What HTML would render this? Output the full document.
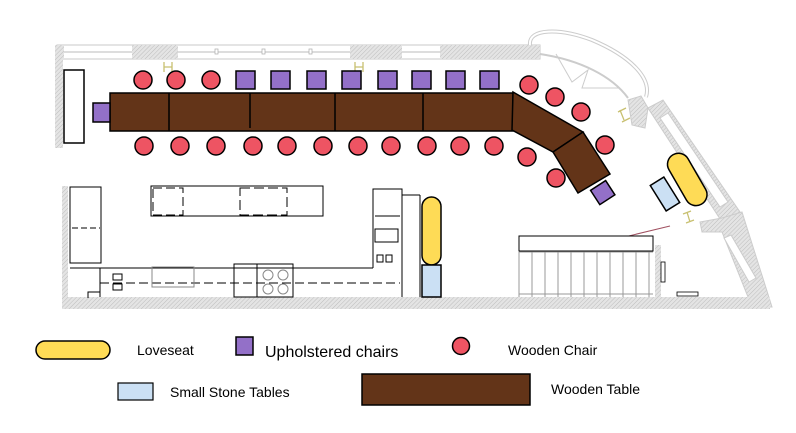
<!DOCTYPE html>
<html><head><meta charset="utf-8"><style>
html,body{margin:0;padding:0;background:#fff;}
svg{display:block;}
text{font-family:"Liberation Sans",sans-serif;fill:#000;}
</style></head><body>
<svg width="796" height="433" viewBox="0 0 796 433" xmlns="http://www.w3.org/2000/svg">
<defs>
<pattern id="h" width="3" height="3" patternUnits="userSpaceOnUse" patternTransform="rotate(45)">
<rect width="3" height="3" fill="#e4e4e4"/><line x1="0" y1="0" x2="0" y2="3" stroke="#bdbdbd" stroke-width="1"/>
</pattern>
</defs>
<!-- top wall -->
<rect x="57" y="45" width="483" height="14" fill="#fff" stroke="#c8c8c8"/>
<line x1="64" y1="52" x2="440" y2="52" stroke="#bbb"/>
<rect x="57" y="45" width="7" height="14" fill="url(#h)"/>
<rect x="132" y="45" width="46" height="14" fill="url(#h)"/>
<rect x="350" y="45" width="52" height="14" fill="url(#h)"/>
<rect x="440" y="45" width="100" height="14" fill="url(#h)"/>
<rect x="215" y="49" width="3" height="5" fill="#fff" stroke="#aaa" stroke-width=".7"/>
<rect x="262" y="49" width="3" height="5" fill="#fff" stroke="#aaa" stroke-width=".7"/>
<rect x="309" y="49" width="3" height="5" fill="#fff" stroke="#aaa" stroke-width=".7"/>
<!-- left wall -->
<rect x="55" y="45" width="8" height="103" fill="url(#h)"/>
<!-- arc window -->
<path d="M530,45 C528,28 560,28 592,40 C630,56 652,78 646,97" fill="none" stroke="#ccc" stroke-width="4"/>
<path d="M530,45 C528,28 560,28 592,40 C630,56 652,78 646,97" fill="none" stroke="#fff" stroke-width="2"/>
<path d="M540,54 C580,60 612,76 628,98" fill="none" stroke="#ccc" stroke-width="2"/>
<path d="M556,54 L572,82 L588,70 L582,88 L620,88" fill="none" stroke="#ccc" stroke-width="1"/>
<!-- right wall -->
<polygon points="628,100 641,96 648,108 645,128 632,125" fill="url(#h)" stroke="#ccc"/>
<polygon points="648,108 663,100 740,212 722,222" fill="url(#h)" stroke="#ccc"/>
<polygon points="660,118 668,113 728,202 720,207" fill="#fff" stroke="#ccc"/>
<polygon points="700,222 722,218 742,212 772,307 752,307 722,232 702,232" fill="url(#h)" stroke="#ccc"/>
<polygon points="724,238 731,235 756,278 749,282" fill="#fff" stroke="#ccc"/>
<!-- bottom wall -->
<rect x="62" y="297" width="708" height="12" fill="url(#h)"/>
<rect x="62" y="186" width="6" height="112" fill="url(#h)"/>
<rect x="655" y="245" width="6" height="52" fill="url(#h)"/>
<line x1="612" y1="240" x2="670" y2="226" stroke="#a05060" stroke-width="1"/>
<rect x="661" y="262" width="4" height="20" fill="#fff" stroke="#000" stroke-width=".8"/>
<rect x="677" y="292" width="21" height="4" fill="#fff" stroke="#000" stroke-width=".8"/>
<!-- H markers -->
<g stroke="#c8c070" stroke-width="1.3" fill="none">
<path d="M164,62 v10 M172,62 v10 M164,67 h8"/>
<path d="M355,62 v10 M363,62 v10 M355,67 h8"/>
<path d="M618,112 l8,-4 M622,122 l8,-4 M620,110 l4,10" />
<path d="M683,214 l8,-3 M686,223 l8,-3 M687,212 l3,10"/>
</g>
<!-- left white rect -->
<rect x="64" y="70" width="20" height="73" fill="#fff" stroke="#000" stroke-width="1.5"/>
<!-- kitchen -->
<g fill="none" stroke="#000" stroke-width="1">
<rect x="70" y="187" width="31" height="76"/>
<line x1="72" y1="228" x2="100" y2="228" stroke-dasharray="6,3"/>
<path d="M70,268 H100 V292 H88 V298"/>
<line x1="100" y1="268" x2="373" y2="268"/>
<line x1="100" y1="283" x2="373" y2="283" stroke-dasharray="9,4"/>
<line x1="100" y1="268" x2="100" y2="297"/>
<rect x="151" y="186" width="172" height="30"/>
<rect x="153" y="188" width="30" height="27" stroke-dasharray="9,4"/>
<rect x="240" y="188" width="47" height="27" stroke-dasharray="10,4"/>
<rect x="152" y="267" width="42" height="20" stroke="#888"/>
<rect x="234" y="264" width="59" height="33"/>
<line x1="257" y1="264" x2="257" y2="297"/>
<circle cx="268" cy="275" r="5" stroke="#888"/><circle cx="283" cy="275" r="5" stroke="#888"/>
<circle cx="268" cy="289" r="5" stroke="#888"/><circle cx="283" cy="289" r="5" stroke="#888"/>
<rect x="113" y="274" width="9" height="6"/><rect x="113" y="284" width="9" height="6"/>
<path d="M373,268 V189 H402 V297"/>
<line x1="402" y1="195" x2="420" y2="195"/>
<line x1="420" y1="195" x2="420" y2="297"/>
<line x1="375" y1="216" x2="400" y2="216"/>
<rect x="375" y="229" width="23" height="13"/>
<rect x="377" y="255" width="6" height="7"/><rect x="386" y="255" width="6" height="7"/>
<line x1="373" y1="283" x2="400" y2="283" stroke-dasharray="9,4"/>
</g>
<!-- stairs -->
<rect x="519" y="236" width="134" height="15" fill="#fff" stroke="#000" stroke-width="1"/>
<g stroke="#999" stroke-width="1">
<line x1="519" y1="252" x2="653" y2="252"/><line x1="519" y1="294" x2="653" y2="294"/>
<line x1="519" y1="252" x2="519" y2="297"/><line x1="532" y1="252" x2="532" y2="297"/>
<line x1="545" y1="252" x2="545" y2="297"/><line x1="558" y1="252" x2="558" y2="297"/>
<line x1="571" y1="252" x2="571" y2="297"/><line x1="584" y1="252" x2="584" y2="297"/>
<line x1="597" y1="252" x2="597" y2="297"/><line x1="610" y1="252" x2="610" y2="297"/>
<line x1="623" y1="252" x2="623" y2="297"/><line x1="636" y1="252" x2="636" y2="297"/>
<line x1="649" y1="252" x2="649" y2="297"/>
</g>
<!-- table -->
<g fill="#633418" stroke="#000" stroke-width="1.5">
<rect x="110" y="93" width="403" height="38"/>
<polygon points="513,92 583,132 553,152 512,130"/>
<polygon points="553,152 583,132 610,174 578,193"/>
</g>
<g stroke="#000" stroke-width="1.5">
<line x1="169" y1="93" x2="169" y2="131"/><line x1="250" y1="93" x2="250" y2="128"/>
<line x1="335" y1="93" x2="335" y2="131"/><line x1="423" y1="93" x2="423" y2="131"/>
</g>
<!-- purple chairs -->
<g fill="#9370c8" stroke="#000" stroke-width="1.5">
<rect x="93" y="103" width="17" height="19"/>
<rect x="236" y="71" width="19" height="18"/><rect x="271" y="71" width="19" height="18"/>
<rect x="307" y="71" width="19" height="18"/><rect x="342" y="71" width="19" height="18"/>
<rect x="378" y="71" width="19" height="18"/><rect x="412" y="71" width="19" height="18"/>
<rect x="446" y="71" width="19" height="18"/><rect x="480" y="71" width="19" height="18"/>
<rect x="594" y="184" width="18" height="17" transform="rotate(-33 603 193)"/>
</g>
<!-- red chairs -->
<g fill="#ee5463" stroke="#000" stroke-width="1.5">
<circle cx="143" cy="80" r="9"/><circle cx="176" cy="80" r="9"/><circle cx="211" cy="80" r="9"/>
<circle cx="144" cy="146" r="9"/><circle cx="180" cy="146" r="9"/><circle cx="216" cy="146" r="9"/>
<circle cx="253" cy="146" r="9"/><circle cx="287" cy="146" r="9"/><circle cx="323" cy="146" r="9"/>
<circle cx="358" cy="146" r="9"/><circle cx="391" cy="146" r="9"/><circle cx="427" cy="146" r="9"/>
<circle cx="460" cy="146" r="9"/><circle cx="494" cy="146" r="9"/>
<circle cx="529" cy="85" r="9"/><circle cx="555" cy="97" r="9"/><circle cx="581" cy="112" r="9"/>
<circle cx="605" cy="145" r="9"/><circle cx="527" cy="157" r="9"/><circle cx="556" cy="178" r="9"/>
</g>
<!-- loveseats & stone tables -->
<g stroke="#000" stroke-width="1.5">
<rect x="422" y="197" width="19" height="68" rx="9.5" fill="#fedb56"/>
<rect x="422" y="265" width="19" height="32" fill="#cbe0f4"/>
<rect x="676" y="151" width="22" height="57" rx="11" fill="#fedb56" transform="rotate(-30 687 179)"/>
<rect x="657" y="179" width="16" height="30" fill="#cbe0f4" transform="rotate(-32 665 194)"/>
</g>
<!-- legend -->
<rect x="36" y="341" width="74" height="18" rx="9" fill="#fedb56" stroke="#000" stroke-width="1.5"/>
<text x="137" y="355" font-size="14">Loveseat</text>
<rect x="236" y="337" width="17" height="18" fill="#9370c8" stroke="#000" stroke-width="1.5"/>
<text x="265" y="357" font-size="16">Upholstered chairs</text>
<circle cx="461" cy="346" r="8.5" fill="#ee5463" stroke="#000" stroke-width="1.5"/>
<text x="508" y="355" font-size="14">Wooden Chair</text>
<rect x="118" y="383" width="35" height="17" fill="#cbe0f4" stroke="#000" stroke-width="1.2"/>
<text x="170" y="397" font-size="14">Small Stone Tables</text>
<rect x="362" y="374" width="168" height="31" fill="#633418" stroke="#000" stroke-width="1.5"/>
<text x="551" y="394" font-size="14">Wooden Table</text>
</svg>
</body></html>
